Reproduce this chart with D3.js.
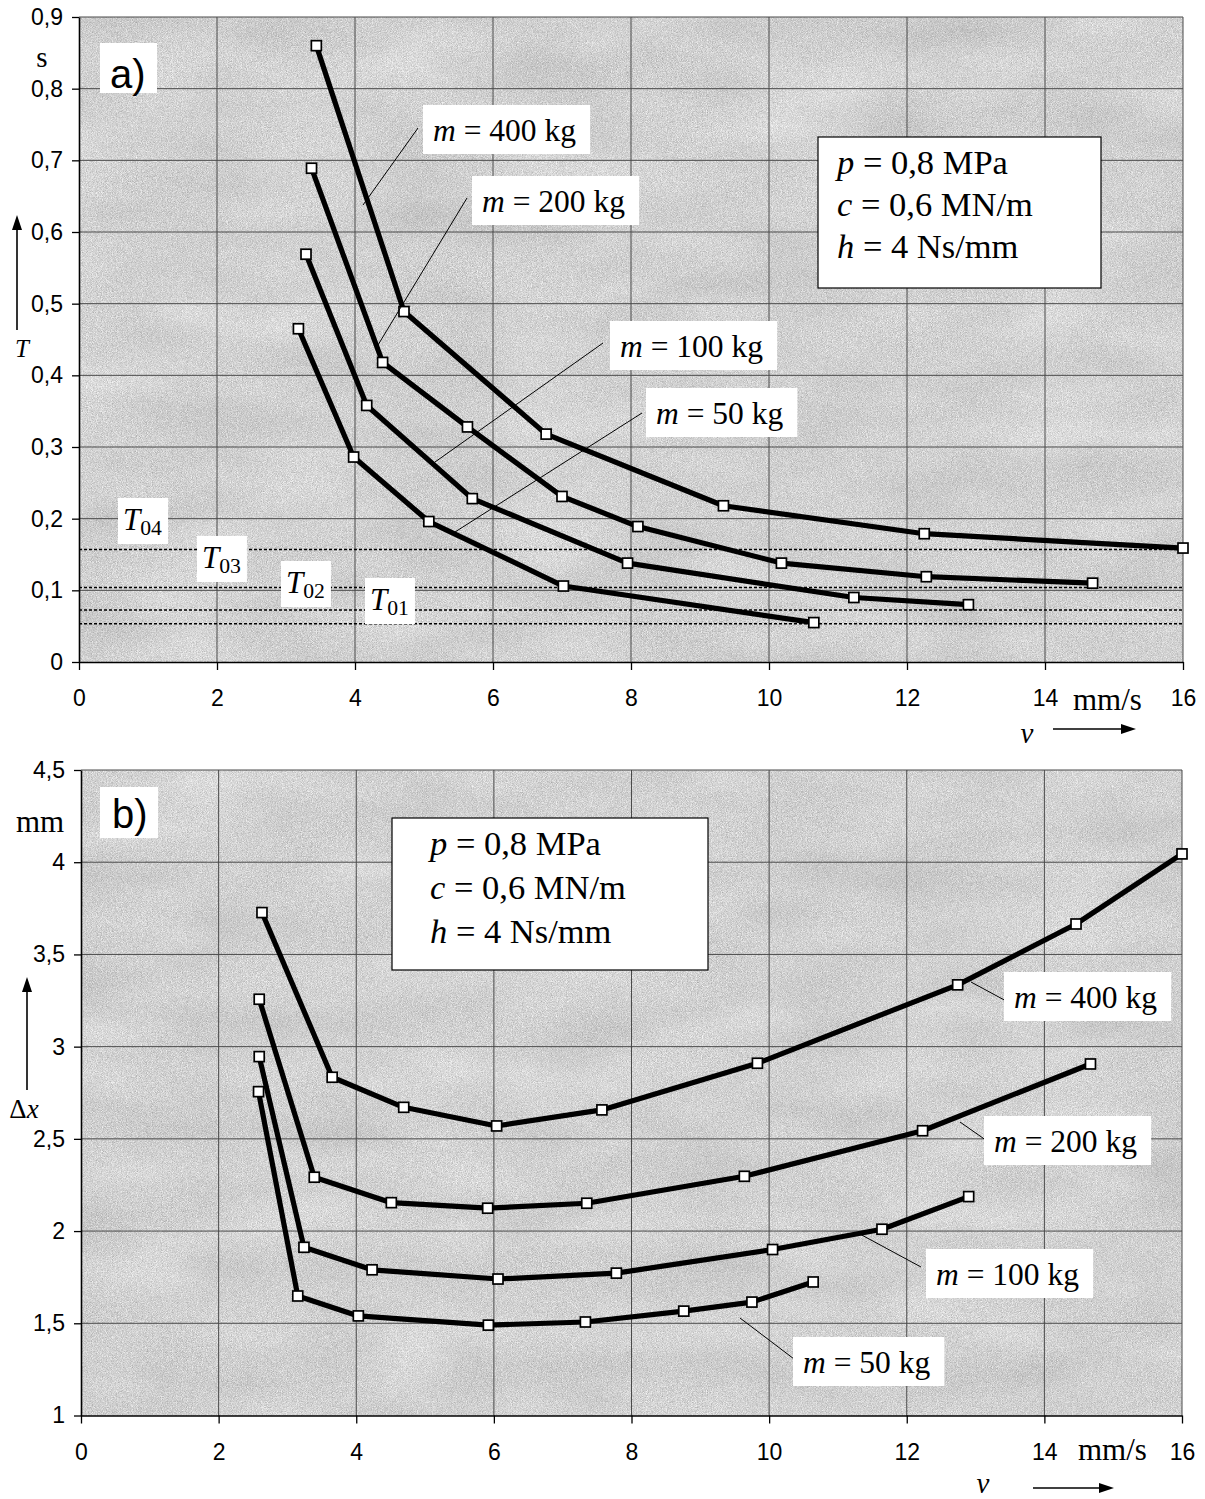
<!DOCTYPE html>
<html>
<head>
<meta charset="utf-8">
<script src="https://cdn.jsdelivr.net/npm/d3@7"></script>
<style>
  body { margin: 0; background: #fff; }
  svg { display: block; }
</style>
</head>
<body>
<svg id="chart" width="1205" height="1499"></svg>
<script>
// ---------- data ----------
const speedTicks = [0, 2, 4, 6, 8, 10, 12, 14, 16];
const periodTicks = [0, 0.1, 0.2, 0.3, 0.4, 0.5, 0.6, 0.7, 0.8, 0.9];
const strokeTicks = [1, 1.5, 2, 2.5, 3, 3.5, 4, 4.5];
const massNames = ["400", "200", "100", "50"];

// a) oscillation period T [s] vs. speed v [mm/s]
const periodM400 = [[3.44, 0.86], [4.71, 0.489], [6.77, 0.318], [9.34, 0.218], [12.25, 0.179], [16.0, 0.159]];
const periodM200 = [[3.37, 0.689], [4.40, 0.418], [5.63, 0.328], [7.00, 0.231], [8.10, 0.189], [10.18, 0.138], [12.28, 0.119], [14.69, 0.110]];
const periodM100 = [[3.29, 0.569], [4.17, 0.358], [5.70, 0.228], [7.95, 0.138], [11.23, 0.090], [12.89, 0.080]];
const periodM50  = [[3.18, 0.465], [3.98, 0.286], [5.07, 0.196], [7.02, 0.106], [10.65, 0.055]];
// natural periods T0 (dotted reference levels)
const naturalPeriodNames = ["04", "03", "02", "01"];
const naturalPeriods = [0.157, 0.104, 0.0725, 0.0535];

// b) stroke amplitude Δx [mm] vs. speed v [mm/s]
const strokeM400 = [[2.63, 3.727], [3.65, 2.834], [4.69, 2.671], [6.04, 2.570], [7.57, 2.657], [9.83, 2.910], [12.74, 3.335], [14.46, 3.665], [16.0, 4.045]];
const strokeM200 = [[2.59, 3.257], [3.39, 2.292], [4.51, 2.154], [5.91, 2.124], [7.35, 2.151], [9.64, 2.297], [12.23, 2.544], [14.67, 2.906]];
const strokeM100 = [[2.59, 2.946], [3.24, 1.912], [4.23, 1.790], [6.06, 1.740], [7.78, 1.772], [10.05, 1.900], [11.64, 2.010], [12.90, 2.187]];
const strokeM50  = [[2.58, 2.756], [3.15, 1.648], [4.03, 1.540], [5.92, 1.490], [7.33, 1.507], [8.76, 1.566], [9.75, 1.615], [10.64, 1.724]];

const paramLines = [
  [{t: "p", i: true}, {t: " = 0,8 MPa"}],
  [{t: "c", i: true}, {t: " = 0,6 MN/m"}],
  [{t: "h", i: true}, {t: " = 4 Ns/mm"}]
];

// ---------- helpers ----------
const svg = d3.select("#chart");
const SANS = "'Liberation Sans', Arial, sans-serif";
const SERIF = "'Liberation Serif', 'Times New Roman', serif";
const commaFmt = d => String(d).replace(".", ",");

const defs = svg.append("defs");
// fine grey dither texture for the plot areas
const grain = defs.append("filter").attr("id", "grain")
  .attr("x", 0).attr("y", 0).attr("width", "100%").attr("height", "100%")
  .attr("color-interpolation-filters", "sRGB");
grain.append("feTurbulence").attr("type", "fractalNoise").attr("baseFrequency", 1.2)
  .attr("numOctaves", 1).attr("seed", 7).attr("result", "fine");
grain.append("feTurbulence").attr("type", "fractalNoise").attr("baseFrequency", "0.008 0.02")
  .attr("numOctaves", 2).attr("seed", 3).attr("result", "coarse");
grain.append("feComposite").attr("in", "fine").attr("in2", "coarse")
  .attr("operator", "arithmetic").attr("k1", 0).attr("k2", 0.8).attr("k3", 0.2).attr("k4", 0)
  .attr("result", "mix");
grain.append("feColorMatrix").attr("in", "mix").attr("type", "saturate").attr("values", 0).attr("result", "grey");
const ct = grain.append("feComponentTransfer").attr("in", "grey");
["R", "G", "B"].forEach(c => ct.append("feFunc" + c).attr("type", "linear").attr("slope", 0.7).attr("intercept", 0.47));
ct.append("feFuncA").attr("type", "table").attr("tableValues", "1 1");

function richText(g, x, y, parts, size, anchor) {
  const t = g.append("text").attr("x", x).attr("y", y)
    .attr("font-family", SERIF).attr("font-size", size).attr("fill", "#000")
    .attr("text-anchor", anchor || "start");
  parts.forEach(p => {
    const s = t.append("tspan").text(p.t);
    if (p.i) s.attr("font-style", "italic");
    if (p.sub) s.attr("font-size", size * 0.7).attr("dy", p.dy || 5);
  });
  return t;
}

function boxedText(g, x, y, parts, size, pad) {
  const grp = g.append("g");
  const rect = grp.append("rect").attr("fill", "#fff");
  const t = richText(grp, x, y, parts, size);
  const bb = t.node().getBBox();
  rect.attr("x", bb.x - pad[3]).attr("y", bb.y - pad[0])
    .attr("width", bb.width + pad[1] + pad[3]).attr("height", bb.height + pad[0] + pad[2]);
  return grp;
}

function arrowUp(g, x, yTop, yBot) {
  g.append("line").attr("x1", x).attr("x2", x).attr("y1", yTop + 10).attr("y2", yBot)
    .attr("stroke", "#000").attr("stroke-width", 1.6);
  g.append("path").attr("d", `M${x},${yTop} L${x - 5},${yTop + 15} L${x + 5},${yTop + 15} Z`).attr("fill", "#000");
}
function arrowRight(g, xLeft, xRight, y) {
  g.append("line").attr("x1", xLeft).attr("x2", xRight - 10).attr("y1", y).attr("y2", y)
    .attr("stroke", "#000").attr("stroke-width", 1.6);
  g.append("path").attr("d", `M${xRight},${y} L${xRight - 15},${y - 5} L${xRight - 15},${y + 5} Z`).attr("fill", "#000");
}

function drawPanel(cfg) {
  const g = svg.append("g");
  const x = d3.scaleLinear().domain([0, 16]).range(cfg.xRange);
  const y = d3.scaleLinear().domain(cfg.yDomain).range(cfg.yRange);
  const [x0, x1] = cfg.xRange, [yb, yt] = cfg.yRange;

  g.append("rect").attr("x", x0).attr("y", yt).attr("width", x1 - x0).attr("height", yb - yt)
    .attr("fill", "#d0d0d0").attr("filter", "url(#grain)");

  // grid
  g.append("g").selectAll("line").data(speedTicks.slice(1)).join("line")
    .attr("x1", d => x(d)).attr("x2", d => x(d)).attr("y1", yt).attr("y2", yb)
    .attr("stroke", "#4a4a4a").attr("stroke-width", 1);
  g.append("g").selectAll("line").data(cfg.yTicks.slice(1)).join("line")
    .attr("x1", x0).attr("x2", x1).attr("y1", d => y(d)).attr("y2", d => y(d))
    .attr("stroke", "#4a4a4a").attr("stroke-width", 1);

  // axes
  const ay = g.append("g").attr("transform", `translate(${x0},0)`)
    .call(d3.axisLeft(y).tickValues(cfg.yTicks).tickSize(7).tickSizeOuter(0).tickPadding(9).tickFormat(commaFmt));
  const ax = g.append("g").attr("transform", `translate(0,${yb})`)
    .call(d3.axisBottom(x).tickValues(speedTicks).tickSize(8).tickSizeOuter(0).tickPadding(20).tickFormat(commaFmt));
  [ay, ax].forEach(a => {
    a.selectAll("text").attr("font-family", SANS).attr("font-size", 23).attr("fill", "#000");
    a.selectAll("line").attr("stroke", "#000").attr("stroke-width", 1.3);
    a.select(".domain").attr("stroke", "#000").attr("stroke-width", 1.6);
  });

  cfg.extra && cfg.extra(g, x, y);

  // series
  const line = d3.line().x(d => x(d[0])).y(d => y(d[1]));
  cfg.series.forEach(s => {
    g.append("path").datum(s).attr("d", line).attr("fill", "none")
      .attr("stroke", "#000").attr("stroke-width", 5.2).attr("stroke-linejoin", "round");
  });
  cfg.series.forEach(s => {
    g.append("g").selectAll("rect").data(s).join("rect")
      .attr("x", d => x(d[0]) - 5).attr("y", d => y(d[1]) - 5)
      .attr("width", 10).attr("height", 10)
      .attr("fill", "#fff").attr("stroke", "#000").attr("stroke-width", 1.7);
  });

  // mass labels with leader lines
  cfg.labels.forEach((lb, i) => {
    g.append("line").attr("x1", lb.lead[0]).attr("y1", lb.lead[1]).attr("x2", lb.lead[2]).attr("y2", lb.lead[3])
      .attr("stroke", "#000").attr("stroke-width", 1);
    boxedText(g, lb.x, lb.y, [{t: "m", i: true}, {t: " = " + massNames[i] + " kg"}], 31.5, [8, 14, 6, 10]);
  });

  // parameter box
  const pb = cfg.paramBox;
  g.append("rect").attr("x", pb.x).attr("y", pb.y).attr("width", pb.w).attr("height", pb.h)
    .attr("fill", "#fff").attr("stroke", "#000").attr("stroke-width", 1.2);
  paramLines.forEach((pl, i) => richText(g, pb.tx, pb.ty + i * pb.dy, pl, 34.5));

  // panel letter
  const lt = cfg.letter;
  g.append("rect").attr("x", lt.bx).attr("y", lt.by).attr("width", lt.bw).attr("height", lt.bh).attr("fill", "#fff");
  g.append("text").attr("x", lt.x).attr("y", lt.y).attr("font-family", SANS).attr("font-size", 40)
    .text(lt.text);

  // axis titles
  cfg.titles(g);
  return g;
}

// ---------- panel a ----------
drawPanel({
  xRange: [79, 1183], yDomain: [0, 0.9], yRange: [662, 17], yTicks: periodTicks,
  series: [periodM400, periodM200, periodM100, periodM50],
  extra: (g, x, y) => {
    g.append("g").selectAll("line").data(naturalPeriods).join("line")
      .attr("x1", x(0)).attr("x2", x(16)).attr("y1", d => y(d)).attr("y2", d => y(d))
      .attr("stroke", "#000").attr("stroke-width", 1.5).attr("stroke-dasharray", "3,2");
    const pos = [[123, 530], [202, 568], [286, 593], [370, 610]];
    naturalPeriodNames.forEach((n, i) => {
      boxedText(g, pos[i][0], pos[i][1], [{t: "T", i: true}, {t: n, sub: true, dy: 5}], 31, [4, 6, 4, 5]);
    });
  },
  labels: [
    {x: 433, y: 141, lead: [418, 128, 363, 205]},
    {x: 482, y: 212, lead: [467, 198, 378, 345]},
    {x: 620, y: 357, lead: [603, 343, 435, 462]},
    {x: 656, y: 424, lead: [642, 413, 455, 532]}
  ],
  paramBox: {x: 818, y: 137, w: 283, h: 151, tx: 837, ty: 174, dy: 42},
  letter: {bx: 100, by: 43, bw: 57, bh: 50, x: 110, y: 88, text: "a)"},
  titles: g => {
    g.append("text").attr("x", 42).attr("y", 67).attr("text-anchor", "middle")
      .attr("font-family", SERIF).attr("font-size", 29).text("s");
    arrowUp(g, 17, 215, 330);
    g.append("text").attr("x", 22).attr("y", 357).attr("text-anchor", "middle")
      .attr("font-family", SERIF).attr("font-style", "italic").attr("font-size", 25).text("T");
    g.append("text").attr("x", 1073).attr("y", 710)
      .attr("font-family", SERIF).attr("font-size", 31).text("mm/s");
    g.append("text").attr("x", 1027).attr("y", 743).attr("text-anchor", "middle")
      .attr("font-family", SERIF).attr("font-style", "italic").attr("font-size", 29).text("v");
    arrowRight(g, 1053, 1136, 729);
  }
});

// ---------- panel b ----------
drawPanel({
  xRange: [81, 1182], yDomain: [1, 4.5], yRange: [1415.5, 770], yTicks: strokeTicks,
  series: [strokeM400, strokeM200, strokeM100, strokeM50],
  labels: [
    {x: 1014, y: 1008, lead: [971, 982, 1008, 1002]},
    {x: 994, y: 1152, lead: [960, 1122, 990, 1143]},
    {x: 936, y: 1285, lead: [858, 1233, 921, 1267]},
    {x: 803, y: 1373, lead: [740, 1318, 798, 1362]}
  ],
  paramBox: {x: 392, y: 818, w: 316, h: 152, tx: 430, ty: 855, dy: 44},
  letter: {bx: 100, by: 787, bw: 58, bh: 51, x: 112, y: 828, text: "b)"},
  titles: g => {
    g.append("text").attr("x", 40).attr("y", 832).attr("text-anchor", "middle")
      .attr("font-family", SERIF).attr("font-size", 31).text("mm");
    arrowUp(g, 27, 977, 1090);
    const t = g.append("text").attr("x", 24).attr("y", 1118).attr("text-anchor", "middle")
      .attr("font-family", SERIF).attr("font-size", 27);
    t.append("tspan").text("Δ");
    t.append("tspan").attr("font-style", "italic").text("x");
    g.append("text").attr("x", 1078).attr("y", 1460)
      .attr("font-family", SERIF).attr("font-size", 31).text("mm/s");
    g.append("text").attr("x", 983).attr("y", 1493).attr("text-anchor", "middle")
      .attr("font-family", SERIF).attr("font-style", "italic").attr("font-size", 29).text("v");
    arrowRight(g, 1033, 1114, 1488);
  }
});
</script>
</body>
</html>
